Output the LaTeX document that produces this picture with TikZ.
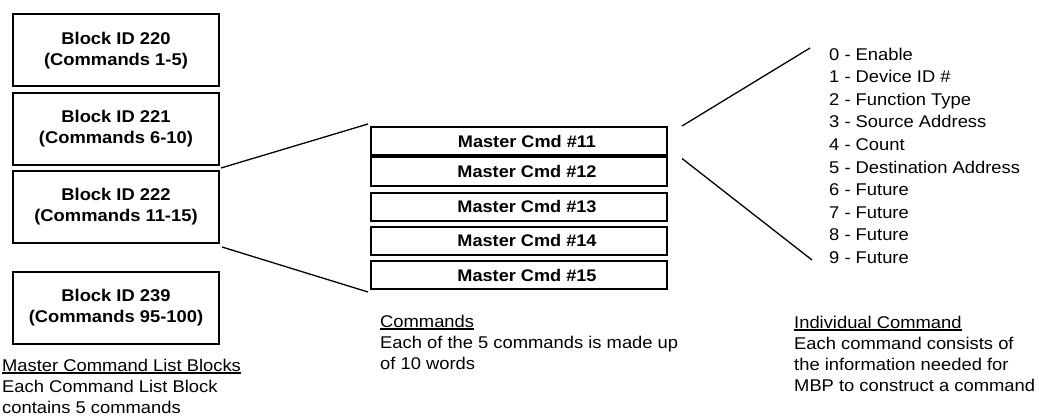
\documentclass[tikz,border=0pt]{standalone}
\usepackage{fontspec}
\setmainfont[FakeStretch=1.08]{Liberation Sans}
\newcommand{\myul}[1]{\setbox0\hbox{#1}\rlap{\vrule height -1.0pt depth 2.8pt width \wd0}\box0}
\begin{document}
\begin{tikzpicture}[x=1pt,y=-1pt,
  blk/.style={draw,line width=2pt,minimum width=206pt,minimum height=72pt,inner sep=0pt,
    align=center,font=\fontsize{17}{21}\selectfont\bfseries},
  cmd/.style={draw,line width=2pt,minimum width=296pt,minimum height=28pt,inner sep=0pt,
    font=\fontsize{16.8}{20}\selectfont\bfseries},
  link/.style={line width=1.3pt},
  captxt/.style={anchor=north west,inner sep=0pt,align=left,font=\fontsize{17}{21}\selectfont},
  fieldlist/.style={anchor=north west,inner sep=0pt,align=left,font=\fontsize{17}{22.6}\selectfont}]
\path[use as bounding box,fill=white] (0,0) rectangle (1039,417);

% left blocks
\node[blk] (b1) at (116,50.5) {Block ID 220\\(Commands 1-5)};
\node[blk] (b2) at (116,129) {Block ID 221\\(Commands 6-10)};
\node[blk] (b3) at (116,207) {Block ID 222\\(Commands 11-15)};
\node[blk] (b4) at (116,307.5) {Block ID 239\\(Commands 95-100)};

% command boxes
\node[cmd] (c11) at (519,141) {\hspace*{16pt}Master Cmd \#11};
\node[cmd] (c12) at (519,171.5) {\hspace*{16pt}Master Cmd \#12};
\node[cmd] (c13) at (519,206.5) {\hspace*{16pt}Master Cmd \#13};
\node[cmd] (c14) at (519,240.5) {\hspace*{16pt}Master Cmd \#14};
\node[cmd] (c15) at (519,275) {\hspace*{16pt}Master Cmd \#15};

% field list
\node[fieldlist] (fields) at (829,47.5) {0 - Enable\\1 - Device ID \#\\2 - Function Type\\3 - Source Address\\4 - Count\\5 - Destination Address\\6 - Future\\7 - Future\\8 - Future\\9 - Future};
\coordinate (f0) at (810,48);
\coordinate (f9) at (812,260);

% connectors
\draw[link] ([xshift=1pt,yshift=-2pt]b2.south east) -- ([xshift=-2pt,yshift=2pt]c11.north west);
\draw[link] ([xshift=2pt,yshift=-3pt]b3.south east) -- ([xshift=-2pt,yshift=-2pt]c15.south west);
\draw[link] ([xshift=14pt]c11.north east) -- (f0);
\draw[link] ([xshift=14pt,yshift=-2pt]c12.north east) -- (f9);

% captions
\node[captxt] (capL) at (2,358.6) {\myul{Master Command List Blocks}\\Each Command List Block\\contains 5 commands};
\node[captxt] (capM) at (380,314.6) {\myul{Commands}\\Each of the 5 commands is made up\\of 10 words};
\node[captxt] (capR) at (794,315.6) {\myul{Individual Command}\\Each command consists of\\the information needed for\\MBP to construct a command};
\end{tikzpicture}
\end{document}
